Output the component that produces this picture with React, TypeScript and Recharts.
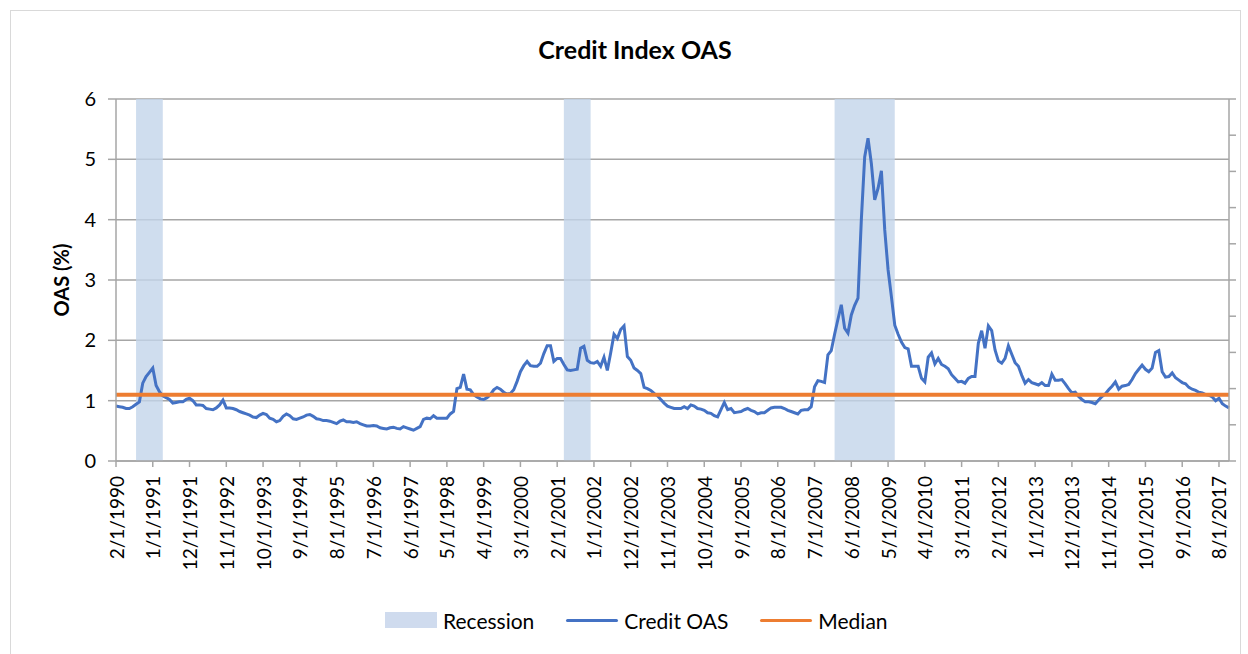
import React from 'react';
import {
  ComposedChart,
  Area,
  Line,
  XAxis,
  YAxis,
  CartesianGrid,
  Legend,
  Label,
} from 'recharts';

// Monthly credit OAS (%), Feb 1990 .. Nov 2017, one row per calendar year
const oasValues: number[] = [
  0.91, 0.9, 0.89, 0.87, 0.87, 0.9, 0.94, 0.98, 1.29, 1.4, 1.47, // 1990 Feb-Dec
  1.54, 1.25, 1.15, 1.08, 1.05, 1.02, 0.96, 0.97, 0.98, 0.98, 1.02, 1.04, // 1991
  1.0, 0.93, 0.93, 0.92, 0.87, 0.86, 0.85, 0.88, 0.93, 1.01, 0.88, 0.88, // 1992
  0.87, 0.85, 0.82, 0.8, 0.78, 0.76, 0.73, 0.72, 0.76, 0.79, 0.77, 0.71, // 1993
  0.69, 0.65, 0.67, 0.74, 0.78, 0.75, 0.7, 0.69, 0.71, 0.73, 0.76, 0.77, // 1994
  0.74, 0.7, 0.69, 0.67, 0.67, 0.66, 0.64, 0.62, 0.66, 0.68, 0.65, 0.65, // 1995
  0.64, 0.65, 0.62, 0.6, 0.58, 0.58, 0.59, 0.58, 0.55, 0.54, 0.53, 0.55, // 1996
  0.56, 0.54, 0.53, 0.57, 0.55, 0.53, 0.51, 0.54, 0.57, 0.69, 0.71, 0.7, // 1997
  0.75, 0.71, 0.71, 0.71, 0.71, 0.78, 0.82, 1.2, 1.22, 1.44, 1.19, 1.18, // 1998
  1.1, 1.06, 1.03, 1.02, 1.05, 1.1, 1.18, 1.22, 1.19, 1.14, 1.11, 1.12, // 1999
  1.18, 1.32, 1.48, 1.58, 1.65, 1.58, 1.57, 1.57, 1.62, 1.78, 1.91, 1.91, // 2000
  1.65, 1.7, 1.7, 1.6, 1.51, 1.5, 1.51, 1.52, 1.87, 1.9, 1.67, 1.63, // 2001
  1.62, 1.65, 1.57, 1.72, 1.5, 1.79, 2.1, 2.03, 2.18, 2.24, 1.73, 1.67, // 2002
  1.54, 1.5, 1.45, 1.22, 1.2, 1.17, 1.12, 1.08, 1.02, 0.96, 0.91, 0.89, // 2003
  0.87, 0.87, 0.87, 0.9, 0.87, 0.93, 0.91, 0.87, 0.86, 0.84, 0.8, 0.79, // 2004
  0.75, 0.73, 0.85, 0.97, 0.85, 0.87, 0.8, 0.81, 0.82, 0.85, 0.87, 0.84, // 2005
  0.82, 0.78, 0.8, 0.8, 0.84, 0.88, 0.89, 0.89, 0.89, 0.87, 0.84, 0.82, // 2006
  0.8, 0.78, 0.84, 0.85, 0.85, 0.9, 1.23, 1.33, 1.32, 1.3, 1.76, 1.83, // 2007
  2.1, 2.35, 2.59, 2.2, 2.12, 2.42, 2.58, 2.7, 4.0, 5.04, 5.35, 4.93, // 2008
  4.33, 4.52, 4.81, 3.83, 3.17, 2.72, 2.25, 2.1, 1.97, 1.88, 1.86, 1.57, // 2009
  1.57, 1.57, 1.37, 1.31, 1.72, 1.79, 1.61, 1.7, 1.6, 1.57, 1.53, 1.43, // 2010
  1.37, 1.31, 1.32, 1.29, 1.37, 1.4, 1.4, 1.95, 2.16, 1.87, 2.24, 2.16, // 2011
  1.84, 1.66, 1.62, 1.7, 1.91, 1.77, 1.63, 1.57, 1.42, 1.29, 1.35, 1.3, // 2012
  1.28, 1.26, 1.3, 1.25, 1.25, 1.44, 1.34, 1.34, 1.35, 1.28, 1.2, 1.13, // 2013
  1.14, 1.07, 1.02, 0.98, 0.98, 0.97, 0.95, 1.01, 1.07, 1.11, 1.18, 1.24, // 2014
  1.31, 1.19, 1.24, 1.25, 1.27, 1.35, 1.45, 1.52, 1.59, 1.52, 1.48, 1.54, // 2015
  1.8, 1.83, 1.48, 1.39, 1.4, 1.46, 1.38, 1.34, 1.3, 1.28, 1.22, 1.19, // 2016
  1.17, 1.14, 1.13, 1.1, 1.09, 1.06, 1.0, 1.04, 0.95, 0.91, 0.88, // 2017 Jan-Nov
];

const START_YEAR = 1990;
const START_MONTH = 2;

// NBER recessions, first and last month shaded
const recessions: [string, string][] = [
  ['8/1/1990', '3/1/1991'],
  ['4/1/2001', '11/1/2001'],
  ['1/1/2008', '6/1/2009'],
];

const MEDIAN_OAS = 1.1;

const oasTicks = [0, 1, 2, 3, 4, 5, 6];
const recessionTicks = [0, 0.1, 0.2, 0.3, 0.4, 0.5, 0.6, 0.7, 0.8, 0.9, 1];

const legendItems = [
  { name: 'Recession', kind: 'box', color: '#cfdbee' },
  { name: 'Credit OAS', kind: 'line', color: '#4472c4' },
  { name: 'Median', kind: 'line', color: '#ed7d31' },
];

const dates = oasValues.map((_, i) => {
  const t = START_MONTH - 1 + i;
  return `${(t % 12) + 1}/1/${START_YEAR + Math.floor(t / 12)}`;
});

const recessionIdx = recessions.map(([a, b]) => [dates.indexOf(a), dates.indexOf(b)]);

const data = dates.map((date, i) => ({
  date,
  oas: oasValues[i],
  median: MEDIAN_OAS,
  recession: recessionIdx.some(([a, b]) => i >= a && i <= b) ? 1 : 0,
}));

const FONT = 'Lato, "Open Sans", sans-serif';
const GRID = '#a6a6a6';

const DateTick = (props: any) => {
  const { x, y, payload } = props;
  return (
    <text
      x={x}
      y={y}
      transform={`rotate(-90, ${x}, ${y})`}
      textAnchor="end"
      dominantBaseline="central"
      fontSize={19}
      fontFamily={FONT}
      fill="#000"
    >
      {payload.value}
    </text>
  );
};

const LegendBox = () => (
  <div style={{ display: 'flex', alignItems: 'center', height: 26, paddingLeft: 385, fontFamily: FONT, fontSize: 21, color: '#000' }}>
    {legendItems.map((item) => (
      <div key={item.name} style={{ display: 'flex', alignItems: 'center', marginRight: 32 }}>
        {item.kind === 'box' ? (
          <div style={{ width: 52, height: 16, background: item.color }} />
        ) : (
          <div style={{ width: 52, height: 3, background: item.color, borderRadius: 2 }} />
        )}
        <span style={{ marginLeft: 6 }}>{item.name}</span>
      </div>
    ))}
  </div>
);

export default function App() {
  return (
    <div style={{ position: 'absolute', left: 0, top: 0, width: 1248, height: 654, overflow: 'hidden', background: '#fff' }}>
      <div style={{ position: 'absolute', left: 10, top: 10, width: 1229, height: 660, border: '1px solid #d9d9d9' }} />
      <div style={{ position: 'absolute', left: 0, top: 34, width: 1270, textAlign: 'center', fontFamily: FONT, fontWeight: 700, fontSize: 25, color: '#000' }}>
        Credit Index OAS
      </div>
      <ComposedChart
        width={1248}
        height={654}
        data={data}
        margin={{ top: 99, right: 9, left: 36, bottom: 67 }}
        style={{ position: 'absolute', left: 0, top: 0 }}
      >
        <CartesianGrid yAxisId="left" vertical={false} stroke={GRID} strokeWidth={1.5} />
        <XAxis
          dataKey="date"
          interval={10}
          height={100}
          tickSize={6}
          tickMargin={9}
          tick={<DateTick />}
          axisLine={{ stroke: GRID, strokeWidth: 1.5 }}
          tickLine={{ stroke: GRID, strokeWidth: 1.5 }}
        />
        <YAxis
          yAxisId="left"
          domain={[0, 6]}
          ticks={oasTicks}
          width={80}
          tickSize={8}
          tickMargin={12}
          tick={{ fontSize: 20, fill: '#000', fontFamily: FONT }}
          axisLine={{ stroke: GRID, strokeWidth: 1.5 }}
          tickLine={{ stroke: GRID, strokeWidth: 1.5 }}
        >
          <Label
            content={() => (
              <text
                x={61}
                y={280}
                transform="rotate(-90, 61, 280)"
                textAnchor="middle"
                dominantBaseline="central"
                fontSize={20}
                fontWeight={700}
                fontFamily={FONT}
                fill="#000"
              >
                OAS (%)
              </text>
            )}
          />
        </YAxis>
        <YAxis
          yAxisId="right"
          orientation="right"
          domain={[0, 1]}
          ticks={recessionTicks}
          width={10}
          tickSize={7}
          tick={() => <g />}
          axisLine={{ stroke: GRID, strokeWidth: 1.5 }}
          tickLine={{ stroke: GRID, strokeWidth: 1.5 }}
        />
        <Legend verticalAlign="bottom" content={<LegendBox />} wrapperStyle={{ left: 0, bottom: 21, width: 1248, height: 26 }} />
        <Area
          yAxisId="right"
          type="stepAfter"
          dataKey="recession"
          name="Recession"
          stroke="none"
          fill="#c3d4ea"
          fillOpacity={0.8}
          isAnimationActive={false}
        />
        <Line
          yAxisId="left"
          type="linear"
          dataKey="oas"
          name="Credit OAS"
          stroke="#4472c4"
          strokeWidth={3}
          dot={false}
          activeDot={false}
          isAnimationActive={false}
        />
        <Line
          yAxisId="left"
          type="linear"
          dataKey="median"
          name="Median"
          stroke="#ed7d31"
          strokeWidth={4}
          dot={false}
          activeDot={false}
          isAnimationActive={false}
        />
      </ComposedChart>
    </div>
  );
}
